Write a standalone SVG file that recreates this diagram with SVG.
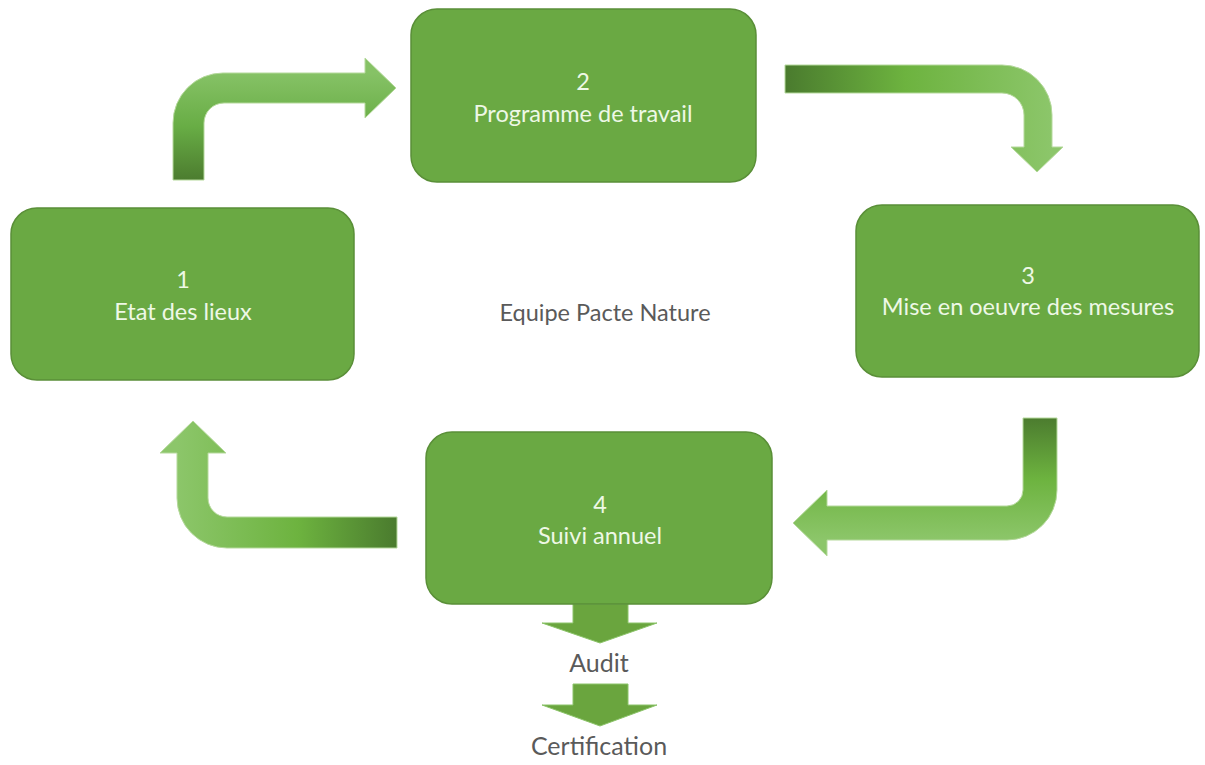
<svg xmlns="http://www.w3.org/2000/svg" width="1205" height="765" viewBox="0 0 1205 765">
<style>
.box{fill:#6aa943;stroke:#5a8f38;stroke-width:1.5}
.bt{font-family:Lato,"Open Sans","Liberation Sans",sans-serif;font-size:23.5px;fill:#eef8e6;text-anchor:middle}
.lbl{font-family:Lato,"Open Sans","Liberation Sans",sans-serif;fill:#5a5a5a;text-anchor:middle}
.arr{stroke:#b5d99c;stroke-width:1}
.down{fill:#6aa53e;stroke:#8cc46a;stroke-width:1}
</style>
<defs>
<linearGradient id="g1" gradientUnits="userSpaceOnUse" x1="0" y1="180" x2="0" y2="73">
<stop offset="0" stop-color="#4c7c2f"/><stop offset="0.5" stop-color="#68ad45"/><stop offset="1" stop-color="#86c266"/>
</linearGradient>
<linearGradient id="g2" gradientUnits="userSpaceOnUse" x1="785" y1="0" x2="1052" y2="0">
<stop offset="0" stop-color="#4a7b2e"/><stop offset="0.45" stop-color="#6db33f"/><stop offset="1" stop-color="#8cc66a"/>
</linearGradient>
<linearGradient id="g3" gradientUnits="userSpaceOnUse" x1="0" y1="418" x2="0" y2="540">
<stop offset="0" stop-color="#4c7c2f"/><stop offset="0.5" stop-color="#6db33f"/><stop offset="1" stop-color="#8cc66a"/>
</linearGradient>
<linearGradient id="g4" gradientUnits="userSpaceOnUse" x1="397" y1="0" x2="177" y2="0">
<stop offset="0" stop-color="#4a7b2e"/><stop offset="0.45" stop-color="#6db33f"/><stop offset="1" stop-color="#8cc66a"/>
</linearGradient>
</defs>
<rect width="1205" height="765" fill="#ffffff"/>
<g id="connectors">
<path class="arr" fill="url(#g1)" d="M173,180 L173,123 A50,50 0 0 1 223,73 L365,73 L365,58 L396,88 L365,118 L365,103 L224,103 A20,20 0 0 0 204,123 L204,180 Z"/>
<path class="arr" fill="url(#g2)" d="M785,65 L1002,65 A50,50 0 0 1 1052,115 L1052,147 L1063,147 L1037,172 L1011,147 L1024,147 L1024,115 A22,22 0 0 0 1002,93 L785,93 Z"/>
<path class="arr" fill="url(#g3)" d="M1057,418 L1057,490 A50,50 0 0 1 1007,540 L827,540 L827,556 L793,523 L827,490 L827,506 L1007,506 A16,16 0 0 0 1023,490 L1023,418 Z"/>
<path class="arr" fill="url(#g4)" d="M397,548 L227,548 A50,50 0 0 1 177,498 L177,453 L160,453 L193,421 L226,453 L208,453 L208,498 A19,19 0 0 0 227,517 L397,517 Z"/>
<path class="down" d="M573,604 L628,604 L628,623 L657,623 L600,643 L542,623 L573,623 Z"/>
<path class="down" d="M573,684 L628,684 L628,705 L657,705 L600,726 L542,705 L573,705 Z"/>
</g>
<g id="node1">
<rect class="box" x="11" y="208" width="343" height="172" rx="26"/>
<text class="bt" x="183" y="288">1</text>
<text class="bt" x="183" y="320">Etat des lieux</text>
</g>
<g id="node2">
<rect class="box" x="411" y="9" width="345" height="173" rx="26"/>
<text class="bt" x="583" y="90">2</text>
<text class="bt" x="583" y="122">Programme de travail</text>
</g>
<g id="node3">
<rect class="box" x="856" y="205" width="343" height="172" rx="26"/>
<text class="bt" x="1028" y="284">3</text>
<text class="bt" x="1028" y="315">Mise en oeuvre des mesures</text>
</g>
<g id="node4">
<rect class="box" x="426" y="432" width="346" height="172" rx="26"/>
<text class="bt" x="600" y="513">4</text>
<text class="bt" x="600" y="544">Suivi annuel</text>
</g>
<g id="center">
<text class="lbl" x="605" y="321" font-size="23.5">Equipe Pacte Nature</text>
</g>
<g id="audit">
<text class="lbl" x="599" y="672" font-size="25">Audit</text>
</g>
<g id="certification">
<text class="lbl" x="599" y="755" font-size="25">Certification</text>
</g>
</svg>
